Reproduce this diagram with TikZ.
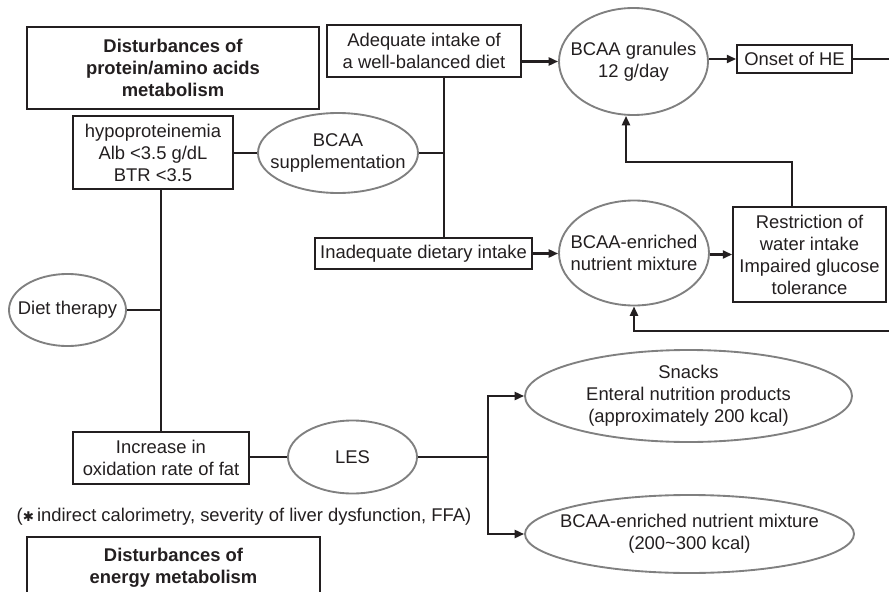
\documentclass[tikz,border=0pt]{standalone}
\usepackage{fontspec}
\setmainfont{Liberation Sans}
\newfontfamily\symfont{DejaVu Sans}
\usetikzlibrary{arrows.meta,shapes.geometric}
\definecolor{ink}{HTML}{231F20}
\definecolor{ellgray}{HTML}{808080}
\begin{document}
\begin{tikzpicture}[x=0.75pt,y=-0.75pt,
  every node/.style={text=ink,font=\fontsize{13.8}{16.5}\selectfont,align=center,inner sep=0pt},
  every label/.style={text=ink,font=\fontsize{13.8}{16.5}\selectfont,align=center,inner sep=0pt},
  boxnode/.style={draw=ink,line width=1.3pt,rectangle},
  headbox/.style={draw=ink,line width=2pt,rectangle,font=\fontsize{13.8}{16.5}\selectfont\bfseries},
  ellnode/.style={draw=ellgray,line width=1.4pt,ellipse},
  conn/.style={draw=ink,line width=1.6pt},
  arr/.style={conn,-{Triangle[length=7pt,width=6pt]}}
]
\useasboundingbox (0,0) rectangle (889,592);
\fill[white] (0,0) rectangle (889,592);

% head boxes
\node[headbox,minimum width=292*0.75pt,minimum height=82*0.75pt] (prot) at (173,68) {Disturbances of\\protein/amino acids\\metabolism};
\node[headbox,minimum width=293*0.75pt,minimum height=62*0.75pt] (energy) at (173.5,568) {Disturbances of\\energy metabolism};

% boxes
\node[boxnode,minimum width=160*0.75pt,minimum height=73*0.75pt] (hypo) at (153,152.5) {hypoproteinemia\\Alb {<}3.5 g/dL\\BTR {<}3.5};
\node[boxnode,minimum width=194*0.75pt,minimum height=52*0.75pt] (adequate) at (424,51) {Adequate intake of\\a well-balanced diet};
\node[boxnode,minimum width=115*0.75pt,minimum height=28*0.75pt] (onset) at (794.5,59) {Onset of HE};
\node[boxnode,minimum width=217*0.75pt,minimum height=31*0.75pt] (inadequate) at (423.5,253.5) {Inadequate dietary intake};
\node[boxnode,minimum width=153*0.75pt,minimum height=95*0.75pt] (restrict) at (809.5,254.5) {Restriction of\\water intake\\Impaired glucose\\tolerance};
\node[boxnode,minimum width=176*0.75pt,minimum height=52*0.75pt] (increase) at (161,458) {Increase in\\oxidation rate of fat};

% ellipses (text as centred labels so the outline keeps its measured size)
\node[ellnode,minimum width=160*0.75pt,minimum height=80*0.75pt,label={center:BCAA\\supplementation}] (suppl) at (338,153) {};
\node[ellnode,minimum width=149*0.75pt,minimum height=107*0.75pt,label={center:BCAA granules\\12 g/day}] (granules) at (633.5,61.5) {};
\node[ellnode,minimum width=150*0.75pt,minimum height=105*0.75pt,label={center:BCAA-enriched\\nutrient mixture}] (enriched) at (634,253) {};
\node[ellnode,minimum width=117*0.75pt,minimum height=72*0.75pt,label={center:Diet therapy}] (diet) at (67.5,310) {};
\node[ellnode,minimum width=129*0.75pt,minimum height=73*0.75pt,label={center:LES}] (les) at (352.5,457) {};
\node[ellnode,minimum width=327*0.75pt,minimum height=92*0.75pt,label={center:Snacks\\Enteral nutrition products\\(approximately 200 kcal)}] (snacks) at (688.5,396) {};
\node[ellnode,minimum width=329*0.75pt,minimum height=78*0.75pt,label={center:BCAA-enriched nutrient mixture\\(200\textasciitilde300 kcal)}] (lower) at (689.5,534) {};

% footnote
\node (foot) at (244,517) {({\symfont\fontsize{10}{12}\selectfont ✱}\,indirect calorimetry, severity of liver dysfunction, FFA)};

% helper coordinates
\coordinate (vx) at (444,0);
\coordinate (edgeA) at (889,59);
\coordinate (edgeB) at (889,331);
\coordinate (up1) at (792,162);
\coordinate (up2) at (626,162);
\coordinate (split) at (488,457);

% connectors
\draw[conn] (hypo.east |- suppl.west) -- (suppl.west);
\draw[conn] (suppl.east) -- (suppl.east -| vx);
\draw[conn] (adequate.south -| vx) -- (inadequate.north -| vx);
\draw[arr] (adequate.east |- granules.west) -- (granules.west);
\draw[arr] (granules.east |- onset.west) -- (onset.west);
\draw[conn] (onset.east) -- (edgeA);
\draw[arr] (up1 |- restrict.north) -- (up1) -- (up2) -- (up2 |- granules.south);
\draw[arr] (inadequate.east) -- (inadequate.east -| enriched.west);
\draw[arr] (enriched.east |- restrict.west) -- (restrict.west);
\draw[arr] (edgeB) -- (edgeB -| enriched.south) -- (enriched.south);
\draw[conn] (diet.east) -- (diet.east -| increase.north);
\draw[conn] (hypo.south -| increase.north) -- (increase.north);
\draw[conn] (increase.east |- les.west) -- (les.west);
\draw[conn] (les.east) -- (split);
\draw[arr] (split) -- (split |- snacks.west) -- (snacks.west);
\draw[arr] (split) -- (split |- lower.west) -- (lower.west);
\end{tikzpicture}
\end{document}
